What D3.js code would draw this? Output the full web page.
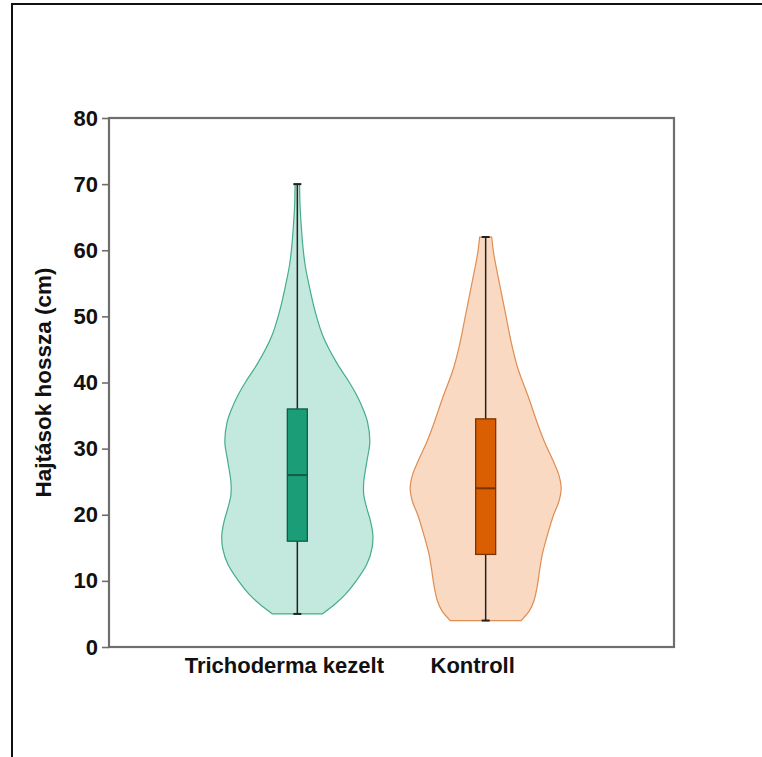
<!DOCTYPE html>
<html>
<head>
<meta charset="utf-8">
<script src="https://cdn.jsdelivr.net/npm/d3@7"></script>
<style>
  html, body { margin: 0; padding: 0; background: #fff; }
  svg { display: block; }
  text { font-family: "Liberation Sans", Arial, sans-serif; font-weight: bold; fill: #111; }
</style>
</head>
<body>
<svg id="chart" width="762" height="757"></svg>
<script>
// Groups
const categories = ["Trichoderma kezelt", "Kontroll"];

// Box-plot summaries (cm)
const whiskerLow  = [5, 4];
const q1Values    = [16, 14];
const medians     = [26, 24];
const q3Values    = [36, 34.5];
const whiskerHigh = [70, 62];

// Relative kernel density profiles: [shoot length, density]
const densityTrichoderma = [
  [5, 0.33], [6.5, 0.5], [8, 0.64], [10, 0.78], [12.5, 0.92], [15, 0.99], [17, 1.0],
  [19, 0.97], [21, 0.92], [23, 0.88], [25, 0.88], [28, 0.92], [31, 0.96], [34, 0.93],
  [36, 0.87], [38, 0.79], [40, 0.69], [43, 0.52], [47, 0.34], [51, 0.23], [55, 0.15],
  [58, 0.10], [61, 0.07], [64, 0.05], [67, 0.035], [70, 0.03]
];
const densityKontroll = [
  [4, 0.47], [5.5, 0.58], [7, 0.64], [9, 0.68], [12, 0.72], [14, 0.75], [17, 0.82],
  [20, 0.9], [22, 0.97], [24, 1.0], [26, 0.97], [28, 0.9], [31, 0.78], [34, 0.68],
  [38, 0.56], [42, 0.43], [46, 0.34], [50, 0.27], [54, 0.2], [58, 0.13], [60, 0.1], [62, 0.08]
];
const densities = [densityTrichoderma, densityKontroll];

// Axis ticks
const yTicks = [0, 10, 20, 30, 40, 50, 60, 70, 80];

// Colours
const violinFill   = ["#c3e8dd", "#f9d9c1"];
const violinStroke = ["#45ad8c", "#e08d52"];
const boxFill      = ["#1b9e77", "#d95f02"];
const boxStroke    = ["#0f5e46", "#7a3400"];

const svg = d3.select("#chart");

// Outer frame
svg.append("rect")
  .attr("x", 12).attr("y", 4)
  .attr("width", 762).attr("height", 770)
  .attr("fill", "none").attr("stroke", "#111").attr("stroke-width", 2);

const plot = { left: 109, right: 674, top: 118, bottom: 647 };

const y = d3.scaleLinear().domain([0, 80]).range([plot.bottom, plot.top]);
const x = d3.scalePoint().domain(categories).range([plot.left, plot.right]).padding(1);
const halfWidth = d3.scaleLinear().domain([0, 1]).range([0, 75.5]);

const g = svg.append("g");

// Violins
categories.forEach((c, i) => {
  const cx = x(c);
  const area = d3.area()
    .x0(d => cx - halfWidth(d[1]))
    .x1(d => cx + halfWidth(d[1]))
    .y(d => y(d[0]))
    .curve(d3.curveCatmullRom.alpha(0.5));
  g.append("path")
    .attr("d", area(densities[i]))
    .attr("fill", violinFill[i])
    .attr("stroke", violinStroke[i])
    .attr("stroke-width", 1.2);
});

// Box plots
const boxW = 20, capW = 8;
categories.forEach((c, i) => {
  const cx = x(c);
  g.append("line")
    .attr("x1", cx).attr("x2", cx)
    .attr("y1", y(whiskerLow[i])).attr("y2", y(whiskerHigh[i]))
    .attr("stroke", "#222").attr("stroke-width", 1.5);
  [whiskerLow[i], whiskerHigh[i]].forEach(v => {
    g.append("line")
      .attr("x1", cx - capW / 2).attr("x2", cx + capW / 2)
      .attr("y1", y(v)).attr("y2", y(v))
      .attr("stroke", "#222").attr("stroke-width", 2);
  });
  g.append("rect")
    .attr("x", cx - boxW / 2).attr("width", boxW)
    .attr("y", y(q3Values[i])).attr("height", y(q1Values[i]) - y(q3Values[i]))
    .attr("fill", boxFill[i]).attr("stroke", boxStroke[i]).attr("stroke-width", 1.3);
  g.append("line")
    .attr("x1", cx - boxW / 2).attr("x2", cx + boxW / 2)
    .attr("y1", y(medians[i])).attr("y2", y(medians[i]))
    .attr("stroke", boxStroke[i]).attr("stroke-width", 2);
});

// Plot frame
svg.append("rect")
  .attr("x", plot.left).attr("y", plot.top)
  .attr("width", plot.right - plot.left).attr("height", plot.bottom - plot.top)
  .attr("fill", "none").attr("stroke", "#6e6e6e").attr("stroke-width", 2.2);

// Y axis
const yAxis = svg.append("g")
  .attr("transform", `translate(${plot.left},0)`)
  .call(d3.axisLeft(y).tickValues(yTicks).tickSize(7).tickPadding(4));
yAxis.select(".domain").remove();
yAxis.selectAll(".tick line").attr("stroke", "#6e6e6e").attr("stroke-width", 1.6);
yAxis.selectAll(".tick text")
  .style("font-size", "22px").style("font-family", "Liberation Sans, Arial, sans-serif")
  .style("font-weight", "bold").attr("fill", "#111");

// X labels
categories.forEach((c, i) => {
  svg.append("text")
    .attr("x", x(c) - 13).attr("y", 673)
    .attr("text-anchor", "middle")
    .style("font-size", "22px")
    .text(c);
});

// Y title
svg.append("text")
  .attr("transform", `translate(51,${(plot.top + plot.bottom) / 2}) rotate(-90)`)
  .attr("text-anchor", "middle")
  .style("font-size", "22.5px")
  .text("Hajtások hossza (cm)");
</script>
</body>
</html>
